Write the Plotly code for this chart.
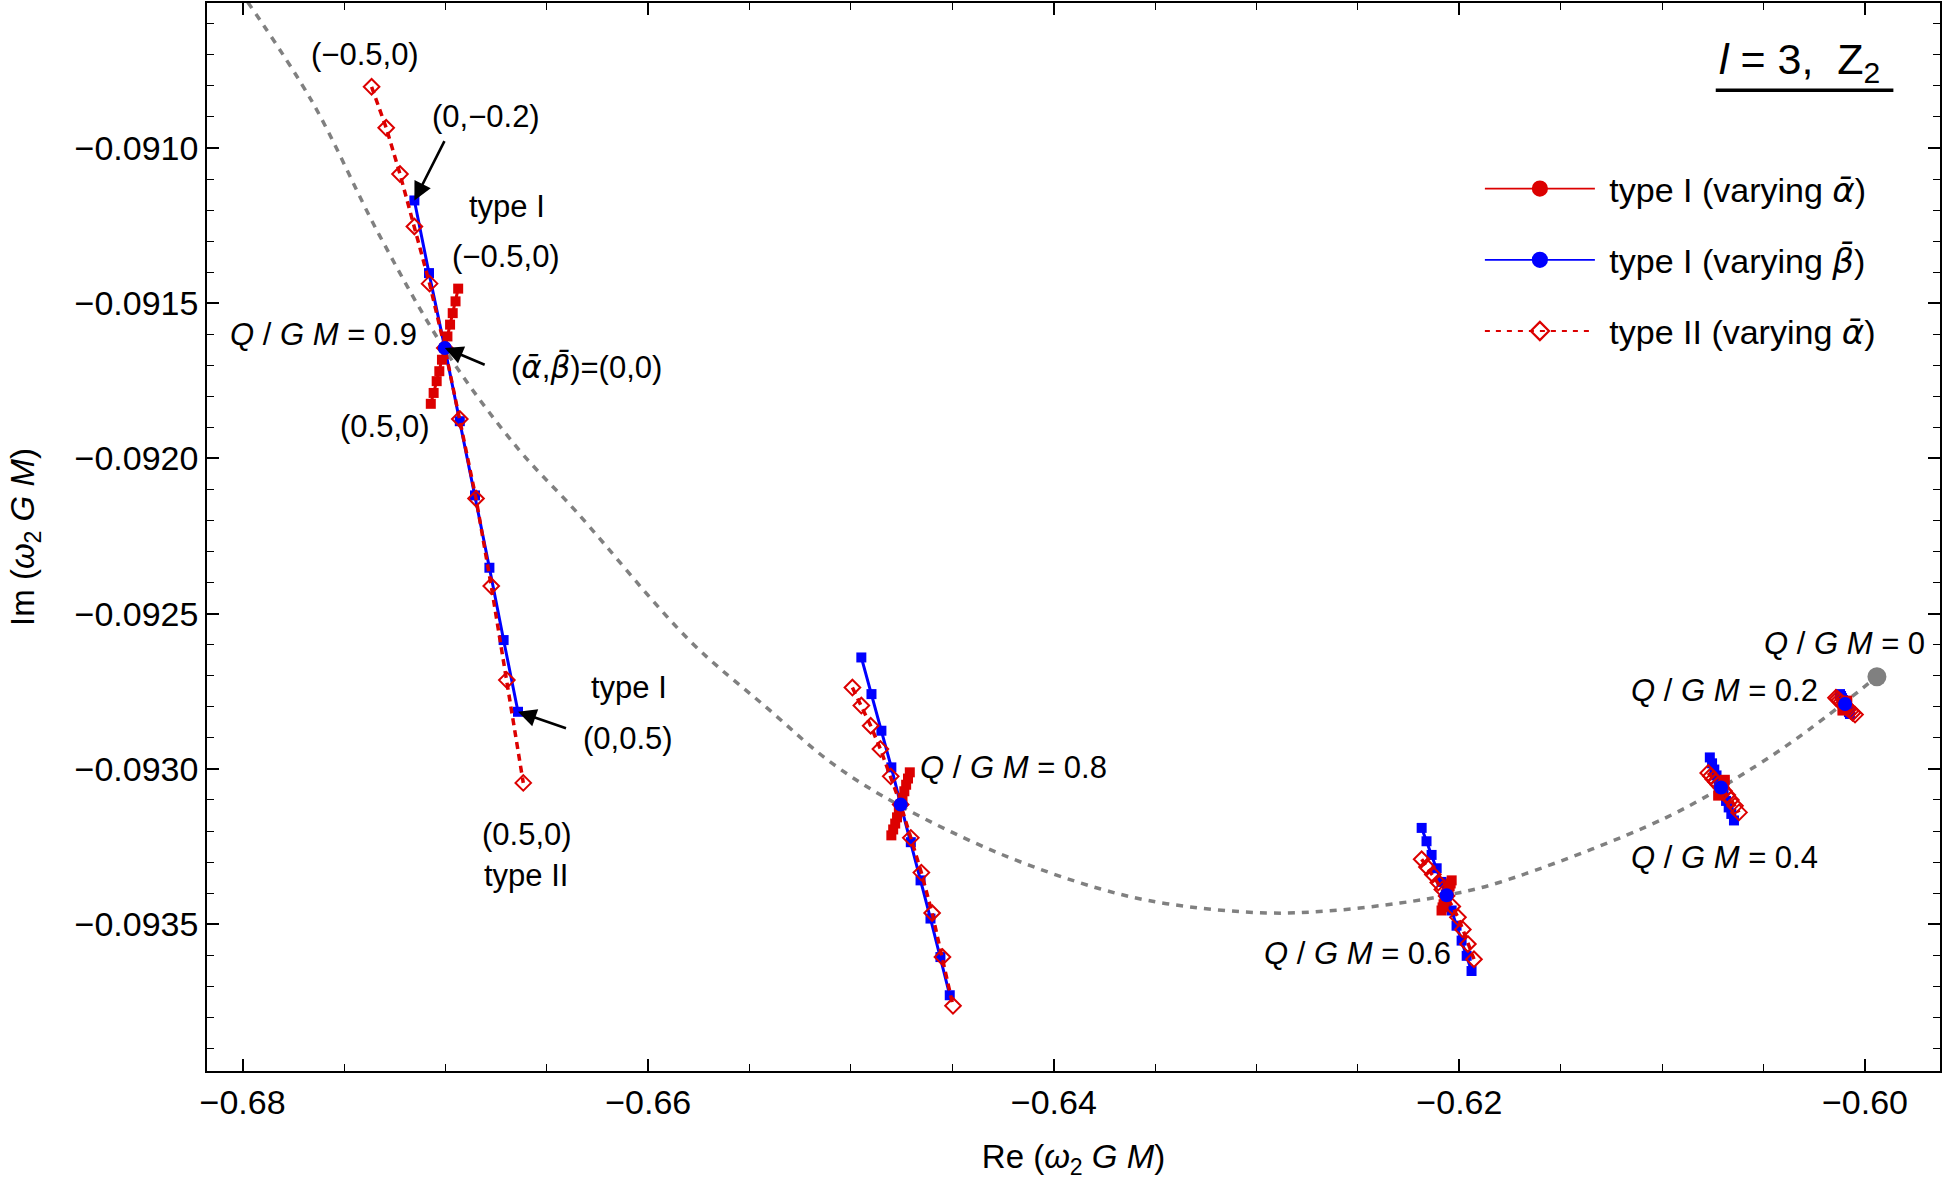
import plotly.graph_objects as go

# ---------------- data ----------------
# dotted reference curve (varying Q/GM), ends at Q/GM = 0
re_curve = [-0.67975, -0.67657, -0.67327, -0.66997, -0.66645, -0.66358, -0.65795, -0.65417,
            -0.65089, -0.64760, -0.64266, -0.63773, -0.63444, -0.62951, -0.62622, -0.62293,
            -0.62063, -0.61800, -0.60978, -0.60534, -0.60271, -0.59941]
im_curve = [-0.090530, -0.090851, -0.091279, -0.091655, -0.091966, -0.092169, -0.092587, -0.092802,
            -0.092984, -0.093118, -0.093273, -0.093386, -0.093434, -0.093464, -0.093456, -0.093432,
            -0.093407, -0.093365, -0.093156, -0.092989, -0.092871, -0.092703]

# Q/GM = 0.9
beta_09 = [-0.2, -0.1, 0.0, 0.1, 0.2, 0.3, 0.4, 0.5]
re_b1_09 = [-0.67153, -0.67081, -0.67003, -0.66929, -0.66854, -0.66783, -0.66713, -0.66642]
im_b1_09 = [-0.091169, -0.091403, -0.091644, -0.091880, -0.092119, -0.092352, -0.092585, -0.092816]
re_a1_09 = [-0.66937, -0.66950, -0.66964, -0.66977, -0.66990, -0.67003, -0.67017, -0.67030,
            -0.67043, -0.67058, -0.67072]
im_a1_09 = [-0.091453, -0.091494, -0.091532, -0.091569, -0.091607, -0.091644, -0.091682, -0.091719,
            -0.091751, -0.091789, -0.091824]
re_a2_09 = [-0.67364, -0.67292, -0.67224, -0.67153, -0.67078, -0.67003, -0.66929, -0.66849,
            -0.66774, -0.66697, -0.66616]
im_a2_09 = [-0.090803, -0.090935, -0.091084, -0.091253, -0.091437, -0.091644, -0.091873, -0.092129,
            -0.092411, -0.092714, -0.093045]

# Q/GM = 0.8
beta_08 = [-0.4, -0.3, -0.2, -0.1, 0.0, 0.1, 0.2, 0.3, 0.4, 0.5]
re_b1_08 = [-0.64949, -0.64899, -0.64850, -0.64801, -0.64755, -0.64705, -0.64657, -0.64608,
            -0.64559, -0.64513]
im_b1_08 = [-0.092641, -0.092759, -0.092877, -0.092995, -0.093115, -0.093236, -0.093359, -0.093482,
            -0.093606, -0.093729]
re_a1_08 = [-0.64710, -0.64719, -0.64728, -0.64737, -0.64746, -0.64755, -0.64764, -0.64773,
            -0.64782, -0.64792, -0.64801]
im_a1_08 = [-0.093011, -0.093031, -0.093051, -0.093072, -0.093093, -0.093115, -0.093135, -0.093156,
            -0.093176, -0.093195, -0.093214]
re_a2_08 = [-0.64993, -0.64949, -0.64903, -0.64855, -0.64804, -0.64755, -0.64705, -0.64653,
            -0.64600, -0.64549, -0.64497]
im_a2_08 = [-0.092738, -0.092796, -0.092861, -0.092936, -0.093024, -0.093115, -0.093222, -0.093334,
            -0.093464, -0.093606, -0.093763]

# Q/GM = 0.6
beta_06 = [-0.5, -0.4, -0.3, -0.2, -0.1, 0.0, 0.1, 0.2, 0.3, 0.4, 0.5]
re_b1_06 = [-0.62186, -0.62162, -0.62137, -0.62112, -0.62088, -0.62063, -0.62038, -0.62014,
            -0.61989, -0.61964, -0.61940]
im_b1_06 = [-0.093190, -0.093233, -0.093277, -0.093320, -0.093364, -0.093407, -0.093456, -0.093505,
            -0.093553, -0.093602, -0.093651]
re_a1_06 = [-0.62038, -0.62043, -0.62048, -0.62053, -0.62058, -0.62063, -0.62068, -0.62073,
            -0.62078, -0.62083, -0.62088]
im_a1_06 = [-0.093359, -0.093369, -0.093378, -0.093388, -0.093398, -0.093407, -0.093417, -0.093427,
            -0.093436, -0.093446, -0.093456]
re_a2_06 = [-0.62186, -0.62160, -0.62131, -0.62104, -0.62084, -0.62063, -0.62035, -0.62007,
            -0.61983, -0.61958, -0.61928]
im_a2_06 = [-0.093291, -0.093316, -0.093340, -0.093366, -0.093388, -0.093409, -0.093443, -0.093478,
            -0.093517, -0.093564, -0.093613]

# Q/GM = 0.4
beta_04 = [-0.5, -0.4, -0.3, -0.2, -0.1, 0.0, 0.1, 0.2, 0.3, 0.4, 0.5]
re_b1_04 = [-0.60765, -0.60754, -0.60743, -0.60732, -0.60721, -0.60710, -0.60697, -0.60685,
            -0.60672, -0.60659, -0.60646]
im_b1_04 = [-0.092963, -0.092982, -0.093002, -0.093021, -0.093041, -0.093060, -0.093081, -0.093103,
            -0.093124, -0.093145, -0.093166]
re_a1_04 = [-0.60691, -0.60694, -0.60697, -0.60700, -0.60704, -0.60707, -0.60710, -0.60714,
            -0.60717, -0.60720, -0.60724]
im_a1_04 = [-0.093035, -0.093041, -0.093046, -0.093051, -0.093056, -0.093060, -0.093065, -0.093070,
            -0.093076, -0.093081, -0.093086]
re_a2_04 = [-0.60773, -0.60760, -0.60748, -0.60735, -0.60723, -0.60710, -0.60695, -0.60679,
            -0.60661, -0.60641, -0.60621]
im_a2_04 = [-0.093013, -0.093023, -0.093033, -0.093042, -0.093051, -0.093060, -0.093071, -0.093084,
            -0.093100, -0.093119, -0.093140]

# Q/GM = 0.2
beta_02 = [-0.5, -0.4, -0.3, -0.2, -0.1, 0.0, 0.1, 0.2, 0.3, 0.4, 0.5]
re_b1_02 = [-0.60123, -0.60118, -0.60113, -0.60108, -0.60103, -0.60098, -0.60093, -0.60088,
            -0.60083, -0.60079, -0.60074]
im_b1_02 = [-0.092759, -0.092765, -0.092772, -0.092778, -0.092785, -0.092791, -0.092797, -0.092804,
            -0.092810, -0.092817, -0.092823]
re_a1_02 = [-0.60087, -0.60089, -0.60092, -0.60094, -0.60097, -0.60099, -0.60101, -0.60104,
            -0.60106, -0.60109, -0.60111]
im_a1_02 = [-0.092780, -0.092783, -0.092787, -0.092790, -0.092793, -0.092796, -0.092799, -0.092802,
            -0.092806, -0.092809, -0.092812]
re_a2_02 = [-0.60143, -0.60135, -0.60127, -0.60119, -0.60110, -0.60099, -0.60090, -0.60081,
            -0.60071, -0.60061, -0.60049]
im_a2_02 = [-0.092771, -0.092775, -0.092780, -0.092785, -0.092791, -0.092796, -0.092802, -0.092807,
            -0.092813, -0.092819, -0.092825]

x_ticks = [-0.68, -0.66, -0.64, -0.62, -0.60]
y_ticks = [-0.0910, -0.0915, -0.0920, -0.0925, -0.0930, -0.0935]

RED = "rgb(220,0,0)"
BLUE = "rgb(0,0,255)"
GRAY = "rgb(128,128,128)"
FONT = "Liberation Sans, Arial, sans-serif"
# barred symbols; DejaVu places the combining macron properly
A = "<span style='font-family:DejaVu Sans'><i>\u03b1\u0304</i></span>"
B = "<span style='font-family:DejaVu Sans'><i>\u03b2\u0304</i></span>"

clusters = [
    (beta_09, re_b1_09, im_b1_09, re_a1_09, im_a1_09, re_a2_09, im_a2_09),
    (beta_08, re_b1_08, im_b1_08, re_a1_08, im_a1_08, re_a2_08, im_a2_08),
    (beta_06, re_b1_06, im_b1_06, re_a1_06, im_a1_06, re_a2_06, im_a2_06),
    (beta_04, re_b1_04, im_b1_04, re_a1_04, im_a1_04, re_a2_04, im_a2_04),
    (beta_02, re_b1_02, im_b1_02, re_a1_02, im_a1_02, re_a2_02, im_a2_02),
]

fig = go.Figure()

fig.add_trace(go.Scatter(x=re_curve, y=im_curve, mode="lines", line_shape="spline",
                         line=dict(color=GRAY, width=3.5, dash="7px,7px"),
                         showlegend=False, hoverinfo="skip"))
fig.add_trace(go.Scatter(x=re_curve[-1:], y=im_curve[-1:], mode="markers",
                         marker=dict(color=GRAY, size=19), showlegend=False))

cen_x, cen_y = [], []
for beta, rb, ib, ra1, ia1, ra2, ia2 in clusters:
    fig.add_trace(go.Scatter(x=rb, y=ib, mode="lines+markers",
                             line=dict(color=BLUE, width=3),
                             marker=dict(symbol="square", size=10, color=BLUE),
                             showlegend=False))
    fig.add_trace(go.Scatter(x=ra1, y=ia1, mode="lines+markers",
                             line=dict(color=RED, width=3),
                             marker=dict(symbol="square", size=10, color=RED),
                             showlegend=False))
    fig.add_trace(go.Scatter(x=ra2, y=ia2, mode="lines+markers",
                             line=dict(color=RED, width=3.5, dash="7px,5px"),
                             marker=dict(symbol="diamond-open", size=12, color=RED,
                                         line=dict(width=2)),
                             showlegend=False))
    k = beta.index(0.0)
    cen_x.append(rb[k])
    cen_y.append(ib[k])

fig.add_trace(go.Scatter(x=cen_x, y=cen_y, mode="markers",
                         marker=dict(color=BLUE, size=14), showlegend=False))

# legend entries (Mathematica style: circles in legend)
legend_items = [
    (" type I (varying " + A + ")", RED, "solid", "circle"),
    (" type I (varying " + B + ")", BLUE, "solid", "circle"),
    (" type II (varying " + A + ")", RED, "5px,6px", "diamond-open"),
]
for i, (name, col, dash, sym) in enumerate(legend_items):
    fig.add_trace(go.Scatter(x=[None], y=[None], mode="lines+markers", name=name,
                             legendgroup=str(i),
                             line=dict(color=col, width=1.8, dash=dash),
                             marker=dict(symbol=sym, size=14, color=col,
                                         line=dict(width=2.2, color=col))))

# text labels
lab = dict(showarrow=False, xref="x", yref="y", font=dict(size=31, color="black", family=FONT))
texts = [
    (-0.67398, -0.090700, "(\u22120.5,0)"),
    (-0.66801, -0.090900, "(0,\u22120.2)"),
    (-0.66698, -0.091190, "type I"),
    (-0.66703, -0.091350, "(\u22120.5,0)"),
    (-0.67600, -0.091602, "<i>Q</i> / <i>G M</i> = 0.9"),
    (-0.66303, -0.091705, "(" + A + "," + B + ")=(0,0)"),
    (-0.67300, -0.091898, "(0.5,0)"),
    (-0.66096, -0.092737, "type I"),
    (-0.66101, -0.092901, "(0,0.5)"),
    (-0.66599, -0.093210, "(0.5,0)"),
    (-0.66604, -0.093342, "type II"),
    (-0.64197, -0.092994, "<i>Q</i> / <i>G M</i> = 0.8"),
    (-0.62501, -0.093596, "<i>Q</i> / <i>G M</i> = 0.6"),
    (-0.60695, -0.093284, "<i>Q</i> / <i>G M</i> = 0.4"),
    (-0.60695, -0.092747, "<i>Q</i> / <i>G M</i> = 0.2"),
    (-0.60099, -0.092596, "<i>Q</i> / <i>G M</i> = 0"),
]
annotations = [dict(x=x, y=y, text=t, **lab) for x, y, t in texts]

arrows = [
    (re_b1_09[0], im_b1_09[0], -0.67001, -0.090973),
    (cen_x[0], cen_y[0], -0.66799, -0.091700),
    (re_b1_09[-1], im_b1_09[-1], -0.66398, -0.092871),
]
for hx, hy, tx, ty in arrows:
    annotations.append(dict(x=hx, y=hy, ax=tx, ay=ty, xref="x", yref="y", axref="x", ayref="y",
                            text="", showarrow=True, arrowhead=2, arrowsize=1.4,
                            arrowwidth=2.6, arrowcolor="black", standoff=0))

annotations.append(dict(x=0.9665, y=0.918, xref="paper", yref="paper", showarrow=False,
                        xanchor="right", yanchor="bottom",
                        text="<i>l</i> = 3,  Z<sub>2</sub>",
                        font=dict(size=43, color="black", family=FONT)))

fig.update_layout(
    width=1944, height=1188,
    margin=dict(l=207, r=4, t=1, b=117),
    paper_bgcolor="white", plot_bgcolor="white",
    font=dict(family=FONT, size=30, color="black"),
    annotations=annotations,
    shapes=[dict(type="line", xref="paper", yref="paper", x0=0.8706, x1=0.9731,
                 y0=0.9184, y1=0.9184, line=dict(color="black", width=3.5))],
    legend=dict(x=0.7345, y=0.853, xanchor="left", yanchor="top", bgcolor="rgba(0,0,0,0)",
                font=dict(size=34, family=FONT), itemwidth=110,
                traceorder="grouped", tracegroupgap=24),
)

axis_common = dict(showline=True, linecolor="black", linewidth=1.6, mirror="ticks",
                   ticks="inside", ticklen=12, tickwidth=1.5, tickcolor="black",
                   showgrid=False, zeroline=False,
                   tickfont=dict(size=34, family=FONT, color="black"))
fig.update_xaxes(range=[-0.681756, -0.59630], tickvals=x_ticks, tickformat=".2f",
                 minor=dict(dtick=0.005, ticks="inside", ticklen=7, tickwidth=1.3,
                            tickcolor="black", showgrid=False),
                 title=dict(text="Re (<i>\u03c9</i><sub>2</sub> <i>G M</i>)",
                            font=dict(size=33, family=FONT), standoff=25),
                 **axis_common)
fig.update_yaxes(range=[-0.093973, -0.090533], tickvals=y_ticks, tickformat=".4f",
                 minor=dict(dtick=0.0001, ticks="inside", ticklen=7, tickwidth=1.3,
                            tickcolor="black", showgrid=False),
                 title=dict(text="Im (<i>\u03c9</i><sub>2</sub> <i>G M</i>)",
                            font=dict(size=33, family=FONT), standoff=30),
                 **axis_common)

fig.write_html("out.html", config={"displayModeBar": False},
               post_script="document.body.style.margin='0';")
